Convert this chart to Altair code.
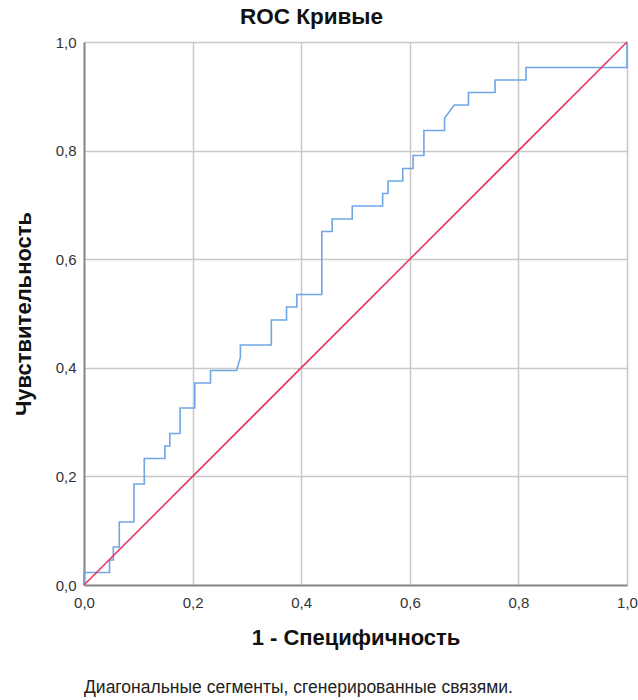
import altair as alt
import pandas as pd

# ROC curve points (1 - specificity, sensitivity)
fpr = [0.0, 0.0, 0.047, 0.047, 0.054, 0.054, 0.065, 0.065, 0.092, 0.092,
       0.111, 0.111, 0.149, 0.149, 0.158, 0.158, 0.177, 0.177, 0.204, 0.204,
       0.233, 0.233, 0.281, 0.288, 0.288, 0.345, 0.345, 0.373, 0.373, 0.392,
       0.392, 0.438, 0.438, 0.457, 0.457, 0.494, 0.494, 0.550, 0.550, 0.560,
       0.560, 0.587, 0.587, 0.606, 0.606, 0.626, 0.626, 0.664, 0.664, 0.682,
       0.708, 0.708, 0.757, 0.757, 0.814, 0.814, 1.0, 1.0]
tpr = [0.0, 0.023, 0.023, 0.046, 0.046, 0.070, 0.070, 0.116, 0.116, 0.186,
       0.186, 0.233, 0.233, 0.256, 0.256, 0.279, 0.279, 0.326, 0.326, 0.372,
       0.372, 0.395, 0.395, 0.419, 0.442, 0.442, 0.488, 0.488, 0.512, 0.512,
       0.535, 0.535, 0.651, 0.651, 0.674, 0.674, 0.698, 0.698, 0.721, 0.721,
       0.744, 0.744, 0.767, 0.767, 0.791, 0.791, 0.837, 0.837, 0.860, 0.884,
       0.884, 0.907, 0.907, 0.930, 0.930, 0.953, 0.953, 1.0]

diag_x = [0.0, 1.0]
diag_y = [0.0, 1.0]
tick_values = [0.0, 0.2, 0.4, 0.6, 0.8, 1.0]

title_text = "ROC Кривые"
x_title = "1 - Специфичность"
y_title = "Чувствительность"
footnote = "Диагональные сегменты, сгенерированные связями."

roc = pd.DataFrame({"fpr": fpr, "tpr": tpr, "i": list(range(len(fpr)))})
diag = pd.DataFrame({"fpr": diag_x, "tpr": diag_y, "i": [0, 1]})
note = pd.DataFrame({"t": [footnote]})

FONT = "Liberation Sans"
label_expr = "replace(format(datum.value, '.1f'), '.', ',')"

xscale = alt.Scale(domain=[0, 1], nice=False, zero=True)
yscale = alt.Scale(domain=[0, 1], nice=False, zero=True)

x_axis = alt.Axis(values=tick_values, labelExpr=label_expr, title=x_title,
                  ticks=False, labelPadding=10, titlePadding=17,
                  labelOverlap=False, labelFlush=False, labelBound=False)
y_axis = alt.Axis(values=tick_values, labelExpr=label_expr, title=y_title,
                  ticks=False, labelPadding=8, titlePadding=20,
                  labelOverlap=False, labelFlush=False, labelBound=False)

curve = alt.Chart(roc).mark_line(color="#6ea6e6", strokeWidth=1.6, interpolate="linear").encode(
    x=alt.X("fpr:Q", scale=xscale, axis=x_axis),
    y=alt.Y("tpr:Q", scale=yscale, axis=y_axis),
    order="i:Q",
)

diagonal = alt.Chart(diag).mark_line(color="#e5395f", strokeWidth=1.6).encode(
    x=alt.X("fpr:Q", scale=xscale),
    y=alt.Y("tpr:Q", scale=yscale),
    order="i:Q",
)

foot = alt.Chart(note).mark_text(align="left", baseline="middle", fontSize=17.5,
                                 font=FONT, color="#222").encode(
    text="t:N", x=alt.value(0), y=alt.value(646)
)

chart = alt.layer(curve, diagonal, foot).properties(
    width=543, height=543,
    title=alt.Title(title_text, fontSize=22.5, fontWeight="bold", font=FONT,
                    color="#111", anchor="middle", dx=-44, offset=7),
    autosize=alt.AutoSizeParams(type="none"),
    padding={"left": 84, "top": 42, "right": 11, "bottom": 115},
).configure(background="white").configure_view(stroke=None).configure_axis(
    domainColor="#8a8a8a", domainWidth=2,
    gridColor="#c8c8c8", gridWidth=1.5,
    labelFont=FONT, labelFontSize=15, labelColor="#333",
    titleFont=FONT, titleFontSize=22, titleFontWeight="bold", titleColor="#111",
)

chart.save("out.html", embed_options={"renderer": "svg", "actions": False})
